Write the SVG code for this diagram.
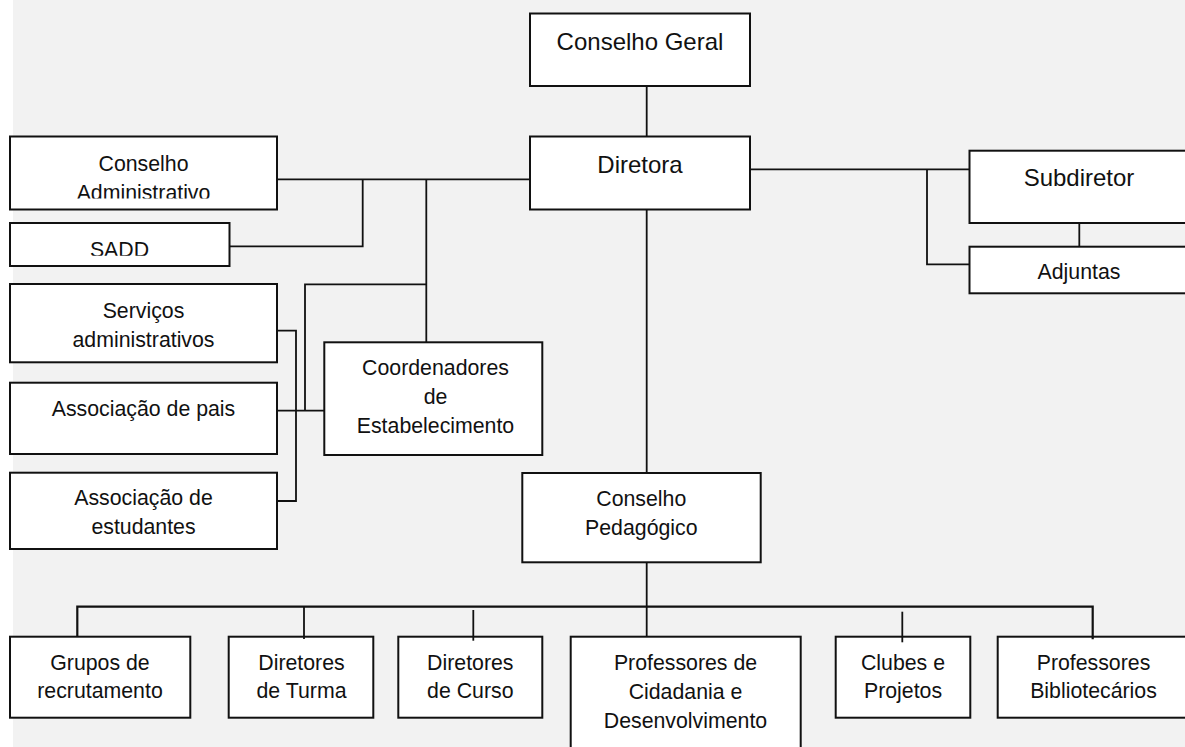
<svg xmlns="http://www.w3.org/2000/svg" width="1185" height="747" viewBox="0 0 1185 747">
<style>
.box{fill:#fff;stroke:#111;stroke-width:2}
.t{font-family:"Liberation Sans",Arial,sans-serif;font-size:21.3px;fill:#111;text-anchor:middle}
.tl{font-size:24px}
.c{fill:none;stroke:#111;stroke-width:1.8}
.bus{stroke-width:2.2}
</style>
<defs>
<clipPath id="clipCA"><rect x="11" y="137" width="265" height="61.5"/></clipPath>
<clipPath id="clipSADD"><rect x="11" y="224" width="217" height="31.8"/></clipPath>
</defs>
<rect x="0" y="0" width="1185" height="747" fill="#fff"/>
<rect x="13" y="0" width="1172" height="747" fill="#f2f2f2"/>

<g id="conselho-geral"><rect class="box" x="530" y="13.5" width="220" height="72.5"/><text class="t tl" x="640" y="50">Conselho Geral</text></g>
<g id="diretora"><rect class="box" x="530" y="136.5" width="220" height="73"/><text class="t tl" x="640" y="172.7">Diretora</text></g>
<g id="conselho-administrativo"><rect class="box" x="10" y="136.5" width="267" height="73"/><g clip-path="url(#clipCA)"><text class="t" x="143.5" y="170.5">Conselho</text><text class="t" x="143.5" y="199.5">Administrativo</text></g></g>
<g id="sadd"><rect class="box" x="10" y="223" width="219.5" height="43"/><g clip-path="url(#clipSADD)"><text class="t" x="119.5" y="257">SADD</text></g></g>
<g id="subdiretor"><rect class="box" x="969.5" y="150.7" width="230" height="72.3"/><text class="t tl" x="1079" y="186">Subdiretor</text></g>
<g id="adjuntas"><rect class="box" x="969.5" y="246.7" width="230" height="46.6"/><text class="t" x="1079" y="279.3">Adjuntas</text></g>
<g id="servicos"><rect class="box" x="10" y="284" width="267" height="78.3"/><text class="t" x="143.5" y="318.3">Serviços</text><text class="t" x="143.5" y="347.3">administrativos</text></g>
<g id="assoc-pais"><rect class="box" x="10" y="382.7" width="267" height="71.3"/><text class="t" x="143.5" y="416">Associação de pais</text></g>
<g id="assoc-estudantes"><rect class="box" x="10" y="472.7" width="267" height="76.3"/><text class="t" x="143.5" y="505">Associação de</text><text class="t" x="143.5" y="534.3">estudantes</text></g>
<g id="coordenadores"><rect class="box" x="324.3" y="342.3" width="218" height="112.7"/><text class="t" x="435.5" y="375">Coordenadores</text><text class="t" x="435.5" y="404">de</text><text class="t" x="435.5" y="433.3">Estabelecimento</text></g>
<g id="conselho-pedagogico"><rect class="box" x="522.3" y="473" width="238.4" height="89.3"/><text class="t" x="641.3" y="505.7">Conselho</text><text class="t" x="641.3" y="535">Pedagógico</text></g>
<g id="grupos"><rect class="box" x="10" y="636.7" width="180.3" height="81"/><text class="t" x="100" y="670">Grupos de</text><text class="t" x="100" y="698.3">recrutamento</text></g>
<g id="diretores-turma"><rect class="box" x="228.7" y="636.7" width="144.6" height="81"/><text class="t" x="301.5" y="670">Diretores</text><text class="t" x="301.5" y="698.3">de Turma</text></g>
<g id="diretores-curso"><rect class="box" x="398.3" y="636.7" width="144" height="81"/><text class="t" x="470.3" y="670">Diretores</text><text class="t" x="470.3" y="698.3">de Curso</text></g>
<g id="prof-cidadania"><rect class="box" x="570.7" y="636.7" width="230" height="130"/><text class="t" x="685.5" y="670">Professores de</text><text class="t" x="685.5" y="699.3">Cidadania e</text><text class="t" x="685.5" y="728.3">Desenvolvimento</text></g>
<g id="clubes"><rect class="box" x="835.7" y="636.7" width="134.6" height="81"/><text class="t" x="903" y="670">Clubes e</text><text class="t" x="903" y="698.3">Projetos</text></g>
<g id="prof-bibliotecarios"><rect class="box" x="997.7" y="636.7" width="200" height="81"/><text class="t" x="1093.5" y="670">Professores</text><text class="t" x="1093.5" y="698.3">Bibliotecários</text></g>

<g id="connectors">
<path class="c" d="M646.7 86V136.5"/>
<path class="c" d="M646.7 209.5V473"/>
<path class="c" d="M277 179.3H530"/>
<path class="c" d="M362.7 179.3V246.3H229.5"/>
<path class="c" d="M426.3 179.3V342.3"/>
<path class="c" d="M426.3 284.3H305V410.7"/>
<path class="c" d="M277 410.7H324.3"/>
<path class="c" d="M277 330.7H296V501H277"/>
<path class="c" d="M750 169.3H969.5"/>
<path class="c" d="M927 169.3V264.3H969.5"/>
<path class="c" d="M1079.3 223V246.7"/>
<path class="c" d="M646.7 562.3V636.7"/>
<path class="c bus" d="M77.3 636.7V606.7H1092.7V639.3"/>
<path class="c" d="M304 606.7V639"/>
<path class="c" d="M473.3 610V640.7"/>
<path class="c" d="M902.3 611.7V642.3"/>
</g>
</svg>
